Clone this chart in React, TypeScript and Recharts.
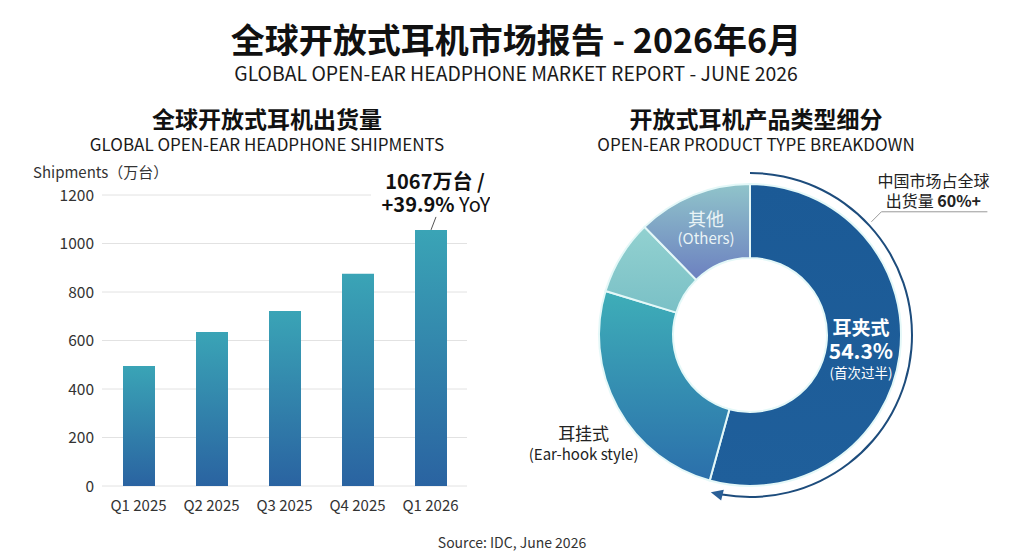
import { BarChart, Bar, XAxis, YAxis, CartesianGrid, LabelList, PieChart, Pie, Cell } from "recharts";

const FONT = '"Noto Sans CJK SC", "Noto Sans", sans-serif';

// bar chart data
const QUARTERS = ["Q1 2025", "Q2 2025", "Q3 2025", "Q4 2025", "Q1 2026"];
const SHIPMENTS = [495, 635, 722, 875, 1056];
const Y_TICKS = [0, 200, 400, 600, 800, 1000, 1200];
const LATEST_NOTE = ["1067万台 /", "+39.9%", " YoY"];

// donut data
const TYPE_NAMES = ["耳夹式", "耳挂式", "其他形态", "其他"];
const TYPE_SHARES = [54.3, 25.4, 8.0, 12.3];
const TYPE_FILLS = ["url(#clipGrad)", "url(#hookGrad)", "url(#miscGrad)", "url(#otherGrad)"];
const CHINA_NOTE = ["中国市场占全球", "出货量 ", "60%+"];
const ARC_SWEEP = 190;

const barData = QUARTERS.map((q, i) => ({ quarter: q, value: SHIPMENTS[i] }));
const pieData = TYPE_NAMES.map((n, i) => ({ name: n, value: TYPE_SHARES[i] }));
const arcData = [{ name: "arc", value: 1 }];

const RADIAN = Math.PI / 180;

const renderLatestNote = (props: any) => {
   const { x, y, width, index } = props;
   if (index !== QUARTERS.length - 1) return null;
   const cx = x + width / 2;
   return (
      <g>
         <rect x={cx - 60} y={y - 64} width={124} height={54} fill="#fff" />
         <line x1={cx} y1={y} x2={cx + 5} y2={y - 13} stroke="#555" strokeWidth={1} />
         <text x={cx + 4} y={y - 41} textAnchor="middle" fontSize={20} fontWeight={700} fill="#111" fontFamily={FONT}>
            {LATEST_NOTE[0]}
         </text>
         <text x={cx + 5} y={y - 18} textAnchor="middle" fontSize={20} fill="#111" fontFamily={FONT}>
            <tspan fontWeight={700}>{LATEST_NOTE[1]}</tspan>
            <tspan>{LATEST_NOTE[2]}</tspan>
         </text>
      </g>
   );
};

const renderTypeLabel = (props: any) => {
   const { cx, cy, midAngle, innerRadius, outerRadius, index } = props;
   const mid = (innerRadius + outerRadius) / 2;
   if (index === 0) {
      const x = cx + mid * Math.cos(-midAngle * RADIAN) - 2;
      const y = cy + mid * Math.sin(-midAngle * RADIAN) + 1;
      return (
         <g fontFamily={FONT} fill="#fff" textAnchor="middle">
            <text x={x} y={y - 16} fontSize={19} fontWeight={700}>{TYPE_NAMES[0]}</text>
            <text x={x} y={y + 8} fontSize={21} fontWeight={700}>{`${TYPE_SHARES[0]}%`}</text>
            <text x={x} y={y + 27} fontSize={13.5}>(首次过半)</text>
         </g>
      );
   }
   if (index === 1) {
      const r = outerRadius + 40;
      const x = cx + r * Math.cos(-midAngle * RADIAN) + 1;
      const y = cy + r * Math.sin(-midAngle * RADIAN);
      return (
         <g fontFamily={FONT} fill="#222" textAnchor="middle">
            <text x={x} y={y + 13} fontSize={17}>{TYPE_NAMES[1]}</text>
            <text x={x} y={y + 33} fontSize={15}>(Ear-hook style)</text>
         </g>
      );
   }
   if (index === 3) {
      const x = cx + mid * Math.cos(-midAngle * RADIAN) - 1;
      const y = cy + mid * Math.sin(-midAngle * RADIAN);
      return (
         <g fontFamily={FONT} fill="#eaf4f6" textAnchor="middle">
            <text x={x} y={y - 3} fontSize={18}>{TYPE_NAMES[3]}</text>
            <text x={x} y={y + 15} fontSize={15}>(Others)</text>
         </g>
      );
   }
   return null;
};

// arrow head at the end of the outer arc plus the China note leader
const renderArcDecor = (props: any) => {
   const { cx, cy, endAngle, innerRadius, outerRadius } = props;
   const r = (innerRadius + outerRadius) / 2;
   const end = 90 - endAngle; // clockwise from top
   const tipPhi = (end + 4) * RADIAN;
   const tip = [cx + r * Math.sin(tipPhi), cy - r * Math.cos(tipPhi)];
   const dir = [Math.cos(tipPhi), Math.sin(tipPhi)];
   const perp = [-dir[1], dir[0]];
   const base = [tip[0] - 12 * dir[0], tip[1] - 12 * dir[1]];
   const pts = [
      tip,
      [base[0] + 5.5 * perp[0], base[1] + 5.5 * perp[1]],
      [base[0] - 5.5 * perp[0], base[1] - 5.5 * perp[1]],
   ]
      .map((p) => p.join(","))
      .join(" ");
   const lPhi = 47 * RADIAN;
   const lx = cx + (r + 4) * Math.sin(lPhi);
   const ly = cy - (r + 4) * Math.cos(lPhi);
   return (
      <g>
         <polygon points={pts} fill="#2a5f97" />
         <polyline
            points={`${lx},${ly} ${lx + 10},${ly - 10} ${lx + 116},${ly - 10}`}
            fill="none"
            stroke="#9a9a9a"
            strokeWidth={1}
         />
         <g fontFamily={FONT} fill="#222" textAnchor="middle" fontSize={16}>
            <text x={lx + 62} y={ly - 35}>{CHINA_NOTE[0]}</text>
            <text x={lx + 62} y={ly - 15}>
               <tspan>{CHINA_NOTE[1]}</tspan>
               <tspan fontWeight={700}>{CHINA_NOTE[2]}</tspan>
            </text>
         </g>
      </g>
   );
};

const Title = ({ text, x, y, size, bold, color = "#111" }: any) => (
   <div
      style={{
         position: "absolute",
         left: x - 400,
         width: 800,
         top: y - size / 2,
         height: size,
         lineHeight: `${size}px`,
         textAlign: "center",
         fontSize: size,
         fontWeight: bold ? 700 : 400,
         color,
         whiteSpace: "nowrap",
      }}
   >
      {text}
   </div>
);

export default function App() {
   return (
      <div
         style={{
            position: "absolute",
            left: 0,
            top: 0,
            width: 1024,
            height: 559,
            background: "#fff",
            overflow: "hidden",
            fontFamily: FONT,
         }}
      >
         <Title text="全球开放式耳机市场报告 - 2026年6月" x={516} y={39} size={34} bold />
         <Title text="GLOBAL OPEN-EAR HEADPHONE MARKET REPORT - JUNE 2026" x={516} y={73} size={19.4} color="#1a1a1a" />
         <Title text="全球开放式耳机出货量" x={267} y={118} size={23} bold />
         <Title text="GLOBAL OPEN-EAR HEADPHONE SHIPMENTS" x={267} y={143} size={17} color="#1a1a1a" />
         <Title text="开放式耳机产品类型细分" x={756} y={118} size={23} bold />
         <Title text="OPEN-EAR PRODUCT TYPE BREAKDOWN" x={756} y={143} size={17} color="#1a1a1a" />
         <Title text="Source: IDC, June 2026" x={512} y={542} size={14} color="#333" />

         <div style={{ position: "absolute", left: 33, top: 162, fontSize: 15, lineHeight: "20px", color: "#333" }}>
            Shipments（万台）
         </div>

         <div style={{ position: "absolute", left: 30, top: 150 }}>
            <BarChart
               width={460}
               height={376}
               data={barData}
               margin={{ top: 45, right: 23, bottom: 10, left: 20 }}
            >
               <defs>
                  <linearGradient id="barGrad" x1="0" y1="0" x2="0" y2="1">
                     <stop offset="0%" stopColor="#3aa4b6" />
                     <stop offset="100%" stopColor="#2a63a1" />
                  </linearGradient>
               </defs>
               <CartesianGrid vertical={false} stroke="#e2e2e2" />
               <XAxis
                  dataKey="quarter"
                  axisLine={false}
                  tickLine={false}
                  tick={{ fontSize: 15, fill: "#333", fontFamily: FONT, dy: 6 }}
                  height={30}
               />
               <YAxis
                  domain={[0, 1200]}
                  ticks={Y_TICKS}
                  axisLine={false}
                  tickLine={false}
                  width={52}
                  tick={{ fontSize: 15.5, fill: "#333", fontFamily: FONT }}
               />
               <Bar dataKey="value" fill="url(#barGrad)" barSize={32} isAnimationActive={false}>
                  <LabelList dataKey="value" content={renderLatestNote} />
               </Bar>
            </BarChart>
         </div>

         <div style={{ position: "absolute", left: 500, top: 135 }}>
            <PieChart width={520} height={400} margin={{ top: 0, right: 0, bottom: 0, left: 0 }}>
               <defs>
                  <linearGradient id="clipGrad" x1="0" y1="0" x2="0" y2="1">
                     <stop offset="0%" stopColor="#1b5a96" />
                     <stop offset="100%" stopColor="#1f5f9b" />
                  </linearGradient>
                  <linearGradient id="hookGrad" x1="0" y1="0" x2="0" y2="1">
                     <stop offset="0%" stopColor="#3eaeb8" />
                     <stop offset="100%" stopColor="#2b6fab" />
                  </linearGradient>
                  <linearGradient id="miscGrad" x1="0" y1="0" x2="0" y2="1">
                     <stop offset="0%" stopColor="#92d1d0" />
                     <stop offset="100%" stopColor="#7ac0c6" />
                  </linearGradient>
                  <linearGradient id="otherGrad" x1="0" y1="0" x2="0" y2="1">
                     <stop offset="0%" stopColor="#90c4ca" />
                     <stop offset="100%" stopColor="#6c80c0" />
                  </linearGradient>
               </defs>
               <Pie
                  data={pieData}
                  dataKey="value"
                  nameKey="name"
                  cx={250}
                  cy={200}
                  innerRadius={77}
                  outerRadius={151}
                  startAngle={90}
                  endAngle={-270}
                  stroke="#e4f8f8"
                  strokeWidth={2}
                  labelLine={false}
                  label={renderTypeLabel}
                  isAnimationActive={false}
               >
                  {pieData.map((_, i) => (
                     <Cell key={`cell-${i}`} fill={TYPE_FILLS[i]} />
                  ))}
               </Pie>
               <Pie
                  data={arcData}
                  dataKey="value"
                  cx={250}
                  cy={200}
                  innerRadius={161}
                  outerRadius={163}
                  startAngle={90}
                  endAngle={90 - ARC_SWEEP}
                  fill="#1d4c7c"
                  stroke="none"
                  labelLine={false}
                  label={renderArcDecor}
                  isAnimationActive={false}
               />
            </PieChart>
         </div>
      </div>
   );
}
